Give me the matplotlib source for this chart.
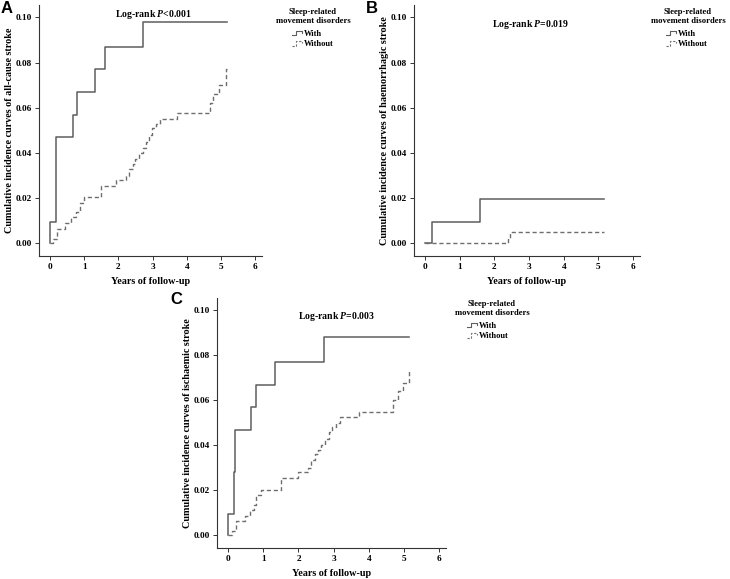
import matplotlib
matplotlib.use('Agg')
import matplotlib.pyplot as plt
from matplotlib.legend_handler import HandlerBase
from matplotlib.lines import Line2D

plt.rcParams['font.family'] = 'Liberation Serif'
plt.rcParams['font.weight'] = 'bold'
plt.rcParams['mathtext.fontset'] = 'custom'
plt.rcParams['mathtext.it'] = 'Liberation Serif:italic:bold'
plt.rcParams['mathtext.rm'] = 'Liberation Serif:bold'

# === Data (years, cumulative incidence) ===
a_with_t = [0, 0, 0.17, 0.18, 0.19, 0.66, 0.79, 1.33, 1.60, 2.72, 5.18]
a_with_v = [0, 0.0093, 0.028, 0.037, 0.047, 0.057, 0.067, 0.077, 0.087, 0.098, 0.098]
a_wo_t = [0, 0.10, 0.21, 0.43, 0.63, 0.77, 0.87, 1.01, 1.50, 1.93, 2.22, 2.32, 2.42, 2.49,
          2.59, 2.71, 2.80, 2.90, 2.99, 3.09, 3.21, 3.72, 4.69, 4.77, 4.93, 5.15, 5.18]
a_wo_v = [0, 0.002, 0.0065, 0.009, 0.0115, 0.014, 0.018, 0.0205, 0.0256, 0.028, 0.030, 0.033,
          0.035, 0.0375, 0.040, 0.042, 0.045, 0.048, 0.051, 0.053, 0.055, 0.0575, 0.062,
          0.066, 0.070, 0.077, 0.077]

b_with_t = [0, 0.20, 1.58, 5.16]
b_with_v = [0, 0.0093, 0.0197, 0.0197]
b_wo_t = [0, 2.38, 2.45, 5.16]
b_wo_v = [0, 0.0025, 0.005, 0.005]

c_with_t = [0, 0, 0.17, 0.18, 0.19, 0.66, 0.80, 1.32, 2.72, 5.16]
c_with_v = [0, 0.0093, 0.028, 0.037, 0.047, 0.057, 0.067, 0.077, 0.088, 0.088]
c_wo_t = [0, 0.12, 0.22, 0.48, 0.63, 0.72, 0.80, 0.92, 1.49, 1.98, 2.27, 2.36, 2.46, 2.55,
          2.65, 2.76, 2.86, 2.96, 3.06, 3.18, 3.71, 4.68, 4.82, 4.97, 5.14, 5.16]
c_wo_v = [0, 0.002, 0.0065, 0.0085, 0.0114, 0.0136, 0.018, 0.0203, 0.0255, 0.028, 0.030,
          0.0336, 0.036, 0.038, 0.040, 0.043, 0.046, 0.048, 0.050, 0.0524, 0.055, 0.060,
          0.064, 0.0677, 0.074, 0.074]

ylabels = ['Cumulative incidence curves of all-cause stroke',
           'Cumulative incidence curves of haemorrhagic stroke',
           'Cumulative incidence curves of ischaemic stroke']
pvals = ['<0.001', '=0.019', '=0.003']
letters = ['A', 'B', 'C']
xticks = [0, 1, 2, 3, 4, 5, 6]
yticks = [0.00, 0.02, 0.04, 0.06, 0.08, 0.10]

W, H = 730, 579
# axes boxes in pixels: left, top, right, bottom
boxes = [(39, 5, 262, 256), (414, 5, 640, 256), (217, 298, 446, 548)]
# legend anchor (title centre x, title top y, entries left x, entries top y)
legends = [(313, 8, 292, 30), (688, 8, 666, 30), (492, 300, 467, 322)]
letter_pos = [(1, 1), (366, 1), (170, 292)]
pv_pos = [(3.04, 0.1013), (3.05, 0.0969), (3.09, 0.0971)]

series = [(a_with_t, a_with_v, a_wo_t, a_wo_v),
          (b_with_t, b_with_v, b_wo_t, b_wo_v),
          (c_with_t, c_with_v, c_wo_t, c_wo_v)]

line_col = '#5e5e5e'
dash_col = '#6e6e6e'


class StepHandler(HandlerBase):
    def __init__(self, dashed):
        super().__init__()
        self.dashed = dashed

    def create_artists(self, legend, orig_handle, xdescent, ydescent,
                       width, height, fontsize, trans):
        x0 = -xdescent
        y0 = -ydescent
        xs = [x0, x0 + 0.35 * width, x0 + 0.35 * width, x0 + 0.9 * width, x0 + 0.9 * width]
        ys = [y0 + 0.1 * height, y0 + 0.1 * height, y0 + 0.9 * height,
              y0 + 0.9 * height, y0 + 0.55 * height]
        ln = Line2D(xs, ys, color=orig_handle.get_color(), lw=0.8,
                    linestyle=(0, (2, 1.5)) if self.dashed else '-')
        ln.set_transform(trans)
        return [ln]


fig = plt.figure(figsize=(W / 100, H / 100), dpi=100)

for i in range(3):
    l, t, r, b = boxes[i]
    ax = fig.add_axes([l / W, 1 - b / H, (r - l) / W, (b - t) / H])
    wt, wv, ot, ov = series[i]
    h1, = ax.step(wt, wv, where='post', color=line_col, lw=1.1)
    h2, = ax.step(ot, ov, where='post', color=dash_col, lw=1.0, linestyle=(0, (3, 2)))
    ax.set_xlim(-0.32, 6.2)
    ax.set_ylim(-0.0056, 0.1055)
    ax.set_xticks(xticks)
    ax.set_yticks(yticks)
    ax.set_yticklabels(['%.2f' % v for v in yticks])
    ax.tick_params(labelsize=6.7, length=3, width=0.7, color='#333333', pad=2)
    for s in ['top', 'right']:
        ax.spines[s].set_visible(False)
    for s in ['left', 'bottom']:
        ax.spines[s].set_linewidth(0.8)
        ax.spines[s].set_color('#333333')
    ax.set_xlabel('Years of follow-up', fontsize=7.3, fontweight='bold', labelpad=4)
    ax.set_ylabel(ylabels[i], fontsize=7.3, fontweight='bold', labelpad=1)
    ax.text(pv_pos[i][0], pv_pos[i][1], 'Log-rank $P$' + pvals[i], fontsize=7.0,
            fontweight='bold', ha='center', va='center')

    tcx, tty, elx, ety = legends[i]
    fig.text(tcx / W, 1 - tty / H, 'Sleep-related\nmovement disorders', fontsize=6.2,
             fontweight='bold', ha='center', va='top', linespacing=1.15)
    ax.legend([h1, h2], ['With', 'Without'], loc='upper left',
              bbox_to_anchor=(elx / W, 1 - ety / H), bbox_transform=fig.transFigure,
              frameon=False, fontsize=6, handlelength=1.3, handletextpad=0.1,
              borderpad=0, borderaxespad=0, labelspacing=0.25,
              handler_map={h1: StepHandler(False), h2: StepHandler(True)})

    fig.text(letter_pos[i][0] / W, 1 - letter_pos[i][1] / H, letters[i],
             family='Liberation Sans', fontsize=12, fontweight='bold', ha='left', va='top')

fig.savefig('out.png', dpi=100)
